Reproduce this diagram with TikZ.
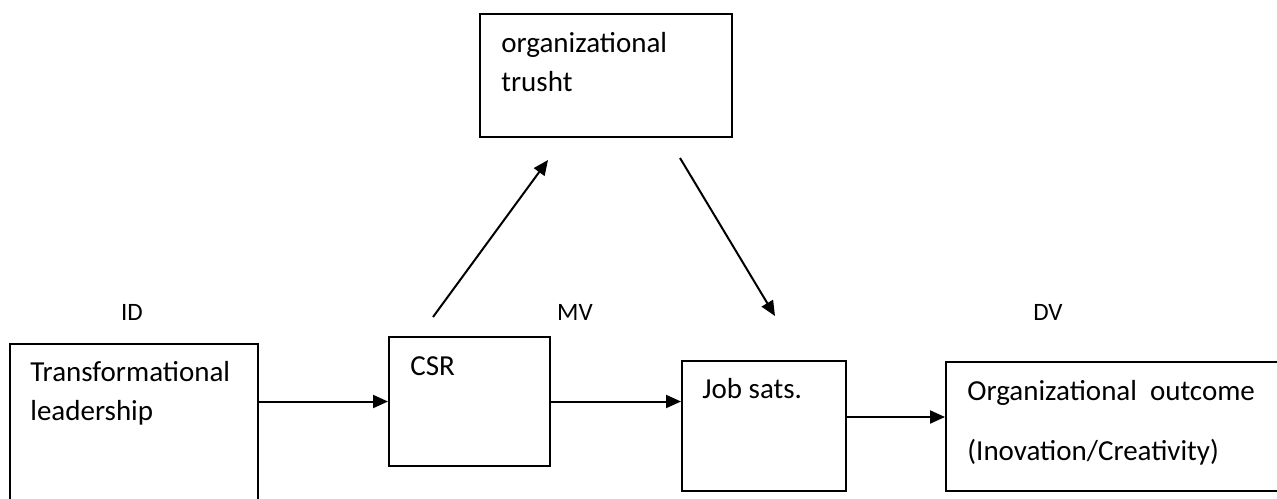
\documentclass[tikz,border=0pt]{standalone}
\usepackage{fontspec}
\setmainfont{Carlito}
\usepackage{tikz}
\usetikzlibrary{arrows.meta,positioning,calc}

\begin{document}
\begin{tikzpicture}[
    x=0.5pt, y=-0.5pt,
    >={Triangle[length=7.5pt,width=6.5pt]},
    box/.style={draw, line width=1pt, anchor=north west, inner sep=0pt},
    txt/.style={anchor=base west, align=left, inner sep=0pt, font=\fontsize{14.5}{19.5}\selectfont},
    tag/.style={anchor=base, inner sep=0pt, font=\fontsize{12.5}{15}\selectfont},
    arrow/.style={->, line width=1pt}
]
    \useasboundingbox (0,0) rectangle (1277,498);

    % Variable tags
    \node[tag] (id) at (132,320) {ID};
    \node[tag] (mv) at (575,320) {MV};
    \node[tag] (dv) at (1048,320) {DV};

    % Boxes
    \node[box, minimum width=124pt, minimum height=90pt] (lead) at (9,343) {};
    \node[box, minimum width=80.5pt, minimum height=64.5pt] (csr) at (388,336) {};
    \node[box, minimum width=82pt, minimum height=65pt] (job) at (681,360) {};
    \node[box, minimum width=170pt, minimum height=64.5pt] (outcome) at (945,361) {};
    \node[box, minimum width=126pt, minimum height=61.5pt] (trust) at (479,13) {};

    % Box texts (base = last line)
    \node[txt] (leadtxt) at (30,420) {Transformational\\leadership};
    \node[txt] (csrtxt) at (410,375) {CSR};
    \node[txt] (jobtxt) at (702,398) {Job sats.};
    \node[txt] (outtxt) at (967,460) {Organizational\ \ outcome\\[10.5pt](Inovation/Creativity)};
    \node[txt] (trusttxt) at (501,91) {organizational\\trusht};

    % Free ends of the mediator arrows
    \coordinate (upfrom) at (433,317);
    \coordinate (upto) at (548,160);
    \coordinate (downfrom) at (680,158);
    \coordinate (downto) at (775,316);

    % Main path
    \draw[arrow] (lead.east |- csr.west) -- (csr.west);
    \draw[arrow] (csr.east) -- (csr.east -| job.west);
    \draw[arrow] ([yshift=4.5pt]job.east) -- ([yshift=4.5pt]job.east -| outcome.west);

    % Through trust
    \draw[arrow] (upfrom) -- (upto);
    \draw[arrow] (downfrom) -- (downto);

\end{tikzpicture}
\end{document}
